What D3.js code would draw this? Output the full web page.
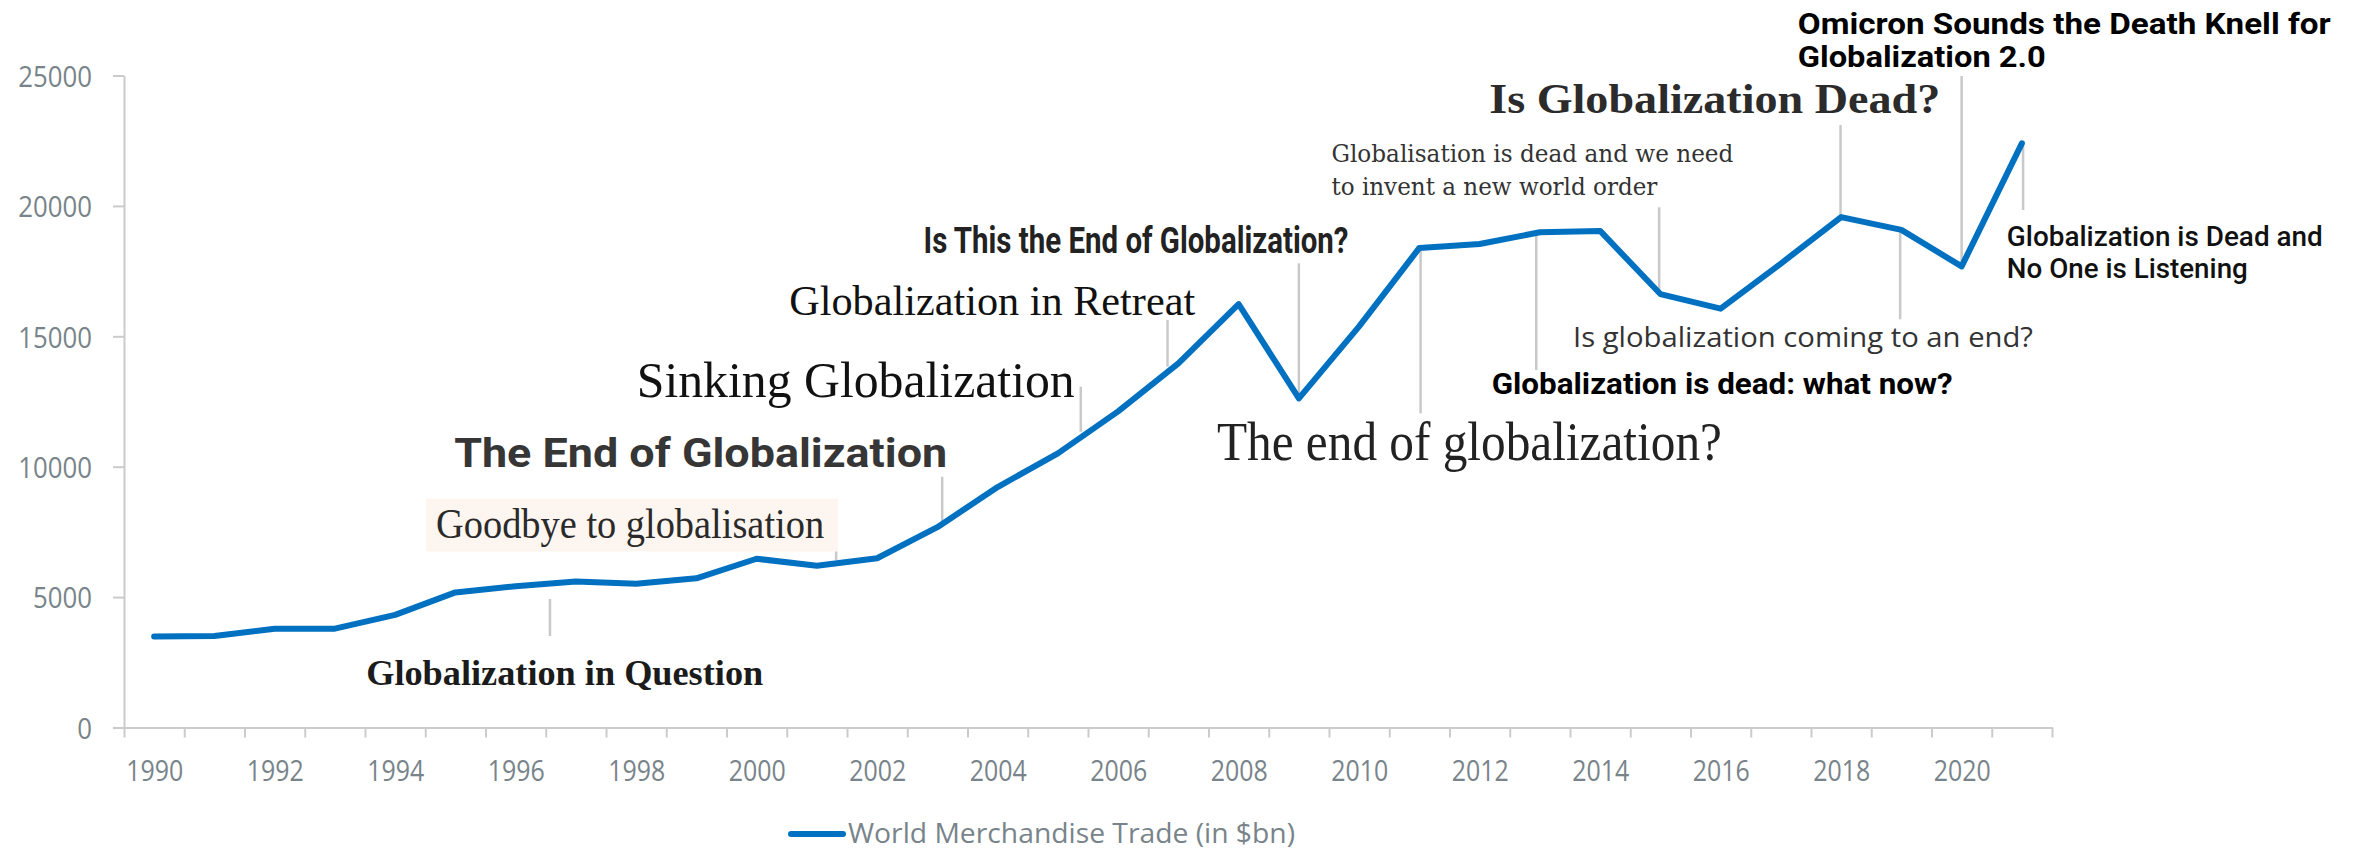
<!DOCTYPE html>
<html>
<head>
<meta charset="utf-8">
<script src="https://cdn.jsdelivr.net/npm/d3@7"></script>
<style>
  html, body { margin: 0; padding: 0; background: #ffffff; }
  svg { display: block; }
</style>
</head>
<body>
<svg id="chart" width="2361" height="849"></svg>
<script>
// World merchandise trade, $bn, one value per year
const years = [1990, 1991, 1992, 1993, 1994, 1995, 1996, 1997, 1998, 1999,
               2000, 2001, 2002, 2003, 2004, 2005, 2006, 2007, 2008, 2009,
               2010, 2011, 2012, 2013, 2014, 2015, 2016, 2017, 2018, 2019,
               2020, 2021];
const tradeValues = [3490, 3510, 3790, 3790, 4320, 5180, 5420, 5600, 5510, 5720,
                     6470, 6200, 6490, 7680, 9220, 10510, 12120, 13960, 16230, 12620,
                     15380, 18390, 18540, 18990, 19040, 16620, 16060, 17790, 19570, 19080,
                     17680, 22400];

const yTicks = [0, 5000, 10000, 15000, 20000, 25000];
const xLabelYears = [1990, 1992, 1994, 1996, 1998, 2000, 2002, 2004, 2006, 2008,
                     2010, 2012, 2014, 2016, 2018, 2020];
const seriesName = "World Merchandise Trade (in $bn)";

// Press headlines, one entry per line of text
const headlines = [
  ["Globalization in Question"],
  ["Goodbye to globalisation"],
  ["The End of Globalization"],
  ["Sinking Globalization"],
  ["Globalization in Retreat"],
  ["Is This the End of Globalization?"],
  ["The end of globalization?"],
  ["Globalisation is dead and we need", "to invent a new world order"],
  ["Globalization is dead: what now?"],
  ["Is Globalization Dead?"],
  ["Is globalization coming to an end?"],
  ["Omicron Sounds the Death Knell for", "Globalization 2.0"],
  ["Globalization is Dead and", "No One is Listening"]
];

// Placement and typography of each headline (x in years, baseline in $bn),
// plus the leader line tying it to the curve.
const headlineLayout = [
  { x: 1993.52, base: 1630,  gap: 0,  widths: [397], font: "'Liberation Serif', serif", size: 36, weight: 700, color: "#1b1b1b",
    leader: { at: 1996.57, from: 4927, to: 3508 } },
  { x: 1994.68, base: 7285,  gap: 0,  widths: [388], font: "'Liberation Serif', serif", size: 42, weight: 400, color: "#2a2a2a",
    box: { left: 10, right: 14, top: 39, bottom: 14, fill: "#fdf6f0" },
    leader: { at: 2001.32, from: 7830, to: 6423 } },
  { x: 1994.98, base: 10000, gap: 0,  widths: [493], font: "Roboto, sans-serif", size: 40, weight: 700, color: "#363636",
    leader: { at: 2003.08, from: 9617, to: 7891 } },
  { x: 1998.01, base: 12684, gap: 0,  widths: [438], font: "'Liberation Serif', serif", size: 50, weight: 400, color: "#111111",
    leader: { at: 2005.38, from: 13068, to: 11342 } },
  { x: 2000.54, base: 15817, gap: 0,  widths: [406], font: "'Liberation Serif', serif", size: 43, weight: 400, color: "#111111",
    leader: { at: 2006.82, from: 15625, to: 13835 } },
  { x: 2002.77, base: 18194, gap: 0,  widths: [425], font: "Roboto, sans-serif", size: 36, weight: 700, color: "#222222",
    leader: { at: 2009.0, from: 17800, to: 12684 } },
  { x: 2007.64, base: 10257, gap: 0,  widths: [505], font: "'Liberation Serif', serif", size: 54, weight: 400, color: "#222222",
    leader: { at: 2011.02, from: 18309, to: 12048 } },
  { x: 2009.54, base: 21695, gap: 33.3, widths: [402, 326], font: "'DejaVu Serif', serif", size: 25, weight: 400, color: "#333333",
    leader: { at: 2014.98, from: 19947, to: 16710 } },
  { x: 2012.20, base: 12788, gap: 0,  widths: [461], font: "Roboto, sans-serif", size: 29, weight: 700, color: "#000000",
    leader: { at: 2012.94, from: 18884, to: 13708 } },
  { x: 2012.16, base: 23551, gap: 0,  widths: [451], font: "'Liberation Serif', serif", size: 43, weight: 700, color: "#2b2b2b",
    leader: { at: 2017.99, from: 23102, to: 19651 } },
  { x: 2013.55, base: 14578, gap: 0,  widths: [460], font: "'Open Sans', sans-serif", size: 27, weight: 400, color: "#333333",
    leader: { at: 2018.98, from: 19011, to: 15652 } },
  { x: 2017.28, base: 26580, gap: 32.4, widths: [533, 248], font: "Roboto, sans-serif", size: 30, weight: 700, color: "#000000",
    leader: { at: 2020.0, from: 24981, to: 17849 } },
  { x: 2020.75, base: 18463, gap: 31.7, widths: [316, 241], font: "Roboto, sans-serif", size: 27, weight: 500, color: "#111111",
    leader: { at: 2021.02, from: 22401, to: 19843 } }
];

const svg = d3.select("#chart");

const x = d3.scaleLinear().domain([1989.5, 2021.5]).range([124, 2052]);
const y = d3.scaleLinear().domain([0, 25000]).range([727.5, 75.5]);

const axisColor = "#cbcbcb";
const labelColor = "#78848a";
const tickFont = "'Open Sans', sans-serif";
const squeeze = 0.86;   // narrow the tick lettering
const lineColor = "#0070c0";

// ---- y axis ----
const gy = svg.append("g")
  .attr("transform", `translate(${x.range()[0]},0)`)
  .call(d3.axisLeft(y).tickValues(yTicks).tickSize(11).tickSizeOuter(0).tickFormat(d3.format("d")));
gy.select(".domain").attr("stroke", axisColor).attr("stroke-width", 2);
gy.selectAll(".tick line").attr("stroke", axisColor).attr("stroke-width", 2);
gy.selectAll(".tick text")
  .attr("x", -32 / squeeze)
  .attr("dy", "0.36em")
  .attr("transform", `scale(${squeeze},1)`)
  .attr("fill", labelColor)
  .style("font-family", tickFont)
  .style("font-size", "30px")
  .style("font-weight", 400);

// ---- x axis: boundary ticks between yearly categories ----
const bounds = years.map(d => d - 0.5).concat([years[years.length - 1] + 0.5]);
const gx = svg.append("g")
  .attr("transform", `translate(0,${y(0)})`)
  .call(d3.axisBottom(x).tickValues(bounds).tickSize(10).tickSizeOuter(0).tickFormat(""));
gx.select(".domain").attr("stroke", axisColor).attr("stroke-width", 2);
gx.selectAll(".tick line").attr("stroke", axisColor).attr("stroke-width", 2);

const gxl = svg.append("g")
  .attr("transform", `translate(0,${y(0)})`)
  .call(d3.axisBottom(x).tickValues(xLabelYears).tickSize(0).tickFormat(d3.format("d")));
gxl.select(".domain").remove();
gxl.selectAll(".tick text")
  .attr("y", 54)
  .attr("dy", 0)
  .attr("transform", `scale(${squeeze},1)`)
  .attr("fill", labelColor)
  .style("font-family", tickFont)
  .style("font-size", "29px")
  .style("font-weight", 400);

// ---- leader lines ----
svg.append("g").selectAll("line")
  .data(headlineLayout)
  .join("line")
  .attr("x1", d => x(d.leader.at))
  .attr("x2", d => x(d.leader.at))
  .attr("y1", d => y(d.leader.from))
  .attr("y2", d => y(d.leader.to))
  .attr("stroke", "#c9c9c9")
  .attr("stroke-width", 2.5);

// ---- trade line ----
const line = d3.line()
  .x((d, i) => x(years[i]))
  .y(d => y(d));
svg.append("path")
  .datum(tradeValues)
  .attr("d", line)
  .attr("fill", "none")
  .attr("stroke", lineColor)
  .attr("stroke-width", 6)
  .attr("stroke-linejoin", "round")
  .attr("stroke-linecap", "round");

// ---- headlines ----
const hg = svg.append("g");
headlines.forEach((lines, i) => {
  const L = headlineLayout[i];
  const x0 = x(L.x);
  const y0 = y(L.base);
  if (L.box) {
    hg.append("rect")
      .attr("x", x0 - L.box.left)
      .attr("y", y0 - L.box.top)
      .attr("width", L.widths[0] + L.box.left + L.box.right)
      .attr("height", L.box.top + L.box.bottom)
      .attr("fill", L.box.fill);
  }
  lines.forEach((t, j) => {
    hg.append("text")
      .attr("x", x0)
      .attr("y", y0 + j * L.gap)
      .attr("textLength", L.widths[j])
      .attr("lengthAdjust", "spacingAndGlyphs")
      .attr("fill", L.color)
      .style("font-family", L.font)
      .style("font-size", L.size + "px")
      .style("font-weight", L.weight)
      .text(t);
  });
});

// ---- legend ----
const lg = svg.append("g");
lg.append("line")
  .attr("x1", 791).attr("x2", 843)
  .attr("y1", 834).attr("y2", 834)
  .attr("stroke", lineColor)
  .attr("stroke-width", 6)
  .attr("stroke-linecap", "round");
lg.append("text")
  .attr("x", 848)
  .attr("y", 843)
  .attr("textLength", 447)
  .attr("lengthAdjust", "spacingAndGlyphs")
  .attr("fill", labelColor)
  .style("font-family", tickFont)
  .style("font-size", "28px")
  .style("font-weight", 400)
  .text(seriesName);
</script>
</body>
</html>
